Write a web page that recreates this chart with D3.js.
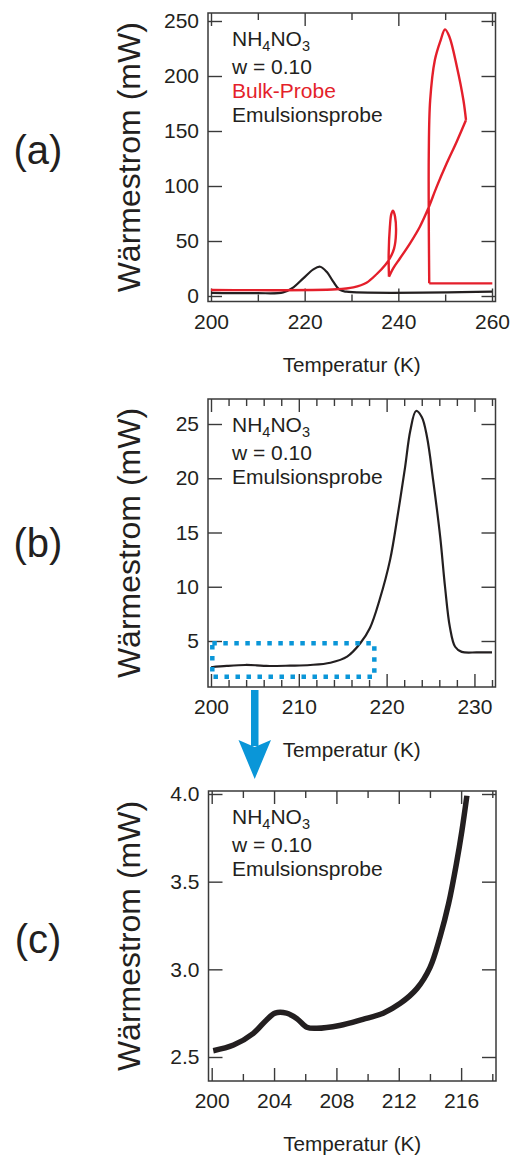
<!DOCTYPE html>
<html><head><meta charset="utf-8">
<script src="https://cdn.jsdelivr.net/npm/d3@7"></script>
<style>
body{margin:0;background:#fff}
svg{display:block}
text{font-family:"Liberation Sans",Arial,Helvetica,sans-serif;fill:#231f20}
</style>
</head><body>
<svg id="chart" width="511" height="1156"></svg>
<script>
// ---------- data ----------
// Panel (a): bulk sample (red), traced in drawing order (it loops back on itself)
const bulkTemp = [260.07,246.6,246.5,246.8,247.8,249.05,249.97,250.9,252.5,253.9,254.45,252.46,250.33,248.2,246.4,244.6,242.5,240.36,238.9,238.0,237.94,238.2,238.5,238.86,239.3,239.5,239.1,238.2,237.2,235.4,233.2,230.4,226.8,200];
const bulkFlow = [11.5,11.5,128,178,214.5,232.7,242.4,235.7,208.5,178,160,140.3,120.6,99.4,79.7,63,47.9,34.3,25.2,17.6,38.8,63,74.5,77.6,72,57,43.3,34.3,28.2,20,12.1,7.9,6.1,5.5];
// indices where the red trace turns sharply
const bulkCorners = [1,10,19];
// Panel (a): emulsion sample (black)
const emulATemp = [200,209.75,215.4,217.6,219.7,221.85,223.3,224.7,226.1,227.5,228.9,260];
const emulAFlow = [2.9,2.6,3.3,7.9,16,24.2,26.6,22,13,5.5,3.9,3.9];
// Panel (b): emulsion sample
const emulBTemp = [200,201.8,203.9,205.2,206.3,209,211.3,213.6,215.5,217,218.1,219.2,220.4,221.3,222.1,222.7,223.35,224.0,224.6,225.3,226.1,226.65,227.2,227.8,228.55,230.3,232];
const emulBFlow = [2.58,2.70,2.79,2.76,2.70,2.73,2.79,3.0,3.56,4.79,6.2,8.8,12.5,16.8,21.0,24.4,26.2,25.65,23.8,19.8,14.6,10.0,6.3,4.47,4.0,3.95,3.95];
// Panel (c): emulsion sample, zoomed
const emulCTemp = [200.1,201.4,202.67,203.5,204.06,204.8,205.45,206.1,206.74,208.2,209.7,211.0,212.1,213.16,214.0,214.65,215.2,215.7,216.05,216.37];
const emulCFlow = [2.536,2.568,2.635,2.71,2.75,2.75,2.72,2.67,2.664,2.68,2.715,2.75,2.806,2.89,3.01,3.186,3.376,3.604,3.79,3.99];

// ticks
const aXMajor = [200,220,240,260], aXMinor = [210,230,250], aYTicks = [0,50,100,150,200,250];
const bXMajor = [200,210,220,230], bXMinor = [202,204,206,208,212,214,216,218,222,224,226,228,232], bYTicks = [5,10,15,20,25];
const cXMajor = [200,204,208,212,216], cXMinor = [202,206,210,214,218], cYTicks = [2.5,3.0,3.5,4.0];

// zoom box in panel (b), data units
const boxTemp = [200.15,218.6], boxFlow = [1.7,4.8];

// texts
const yTitle = "Wärmestrom (mW)", xTitle = "Temperatur (K)";
const legendW = "w = 0.10", legendBulk = "Bulk-Probe", legendEmul = "Emulsionsprobe";

// ---------- drawing ----------
const svg = d3.select("#chart");
const RED = "#e41f2b", INK = "#231f20", FRAME = "#3a3a3a", BLUE = "#0a96d8";
const FS = 21;

function panel(o){
  const g = svg.append("g");
  const x = d3.scaleLinear().domain(o.xd).range(o.xr);
  const y = d3.scaleLinear().domain(o.yd).range(o.yr);
  const f = o.frame;
  const style = sel => {
    sel.select(".domain").remove();
    sel.selectAll(".tick line").attr("stroke", FRAME).attr("stroke-width", 1.4);
    sel.selectAll(".tick text").style("font-size", FS+"px").attr("fill", INK);
  };
  g.append("g").attr("transform",`translate(0,${f.b})`)
    .call(d3.axisBottom(x).tickValues(o.xMaj).tickSizeInner(-13).tickSizeOuter(0).tickPadding(12.5).tickFormat(d3.format("d")))
    .call(style);
  g.append("g").attr("transform",`translate(0,${f.b})`)
    .call(d3.axisBottom(x).tickValues(o.xMin).tickSizeInner(-7).tickSizeOuter(0).tickFormat(""))
    .call(style);
  g.append("g").attr("transform",`translate(0,${f.t})`)
    .call(d3.axisTop(x).tickValues(o.xMaj).tickSizeInner(-13).tickSizeOuter(0).tickFormat(""))
    .call(style);
  g.append("g").attr("transform",`translate(0,${f.t})`)
    .call(d3.axisTop(x).tickValues(o.xMin).tickSizeInner(-7).tickSizeOuter(0).tickFormat(""))
    .call(style);
  g.append("g").attr("transform",`translate(${f.l},0)`)
    .call(d3.axisLeft(y).tickValues(o.yT).tickSizeInner(-14).tickSizeOuter(0).tickPadding(9).tickFormat(o.yFmt))
    .call(style);
  g.append("g").attr("transform",`translate(${f.r},0)`)
    .call(d3.axisRight(y).tickValues(o.yT).tickSizeInner(-14).tickSizeOuter(0).tickFormat(""))
    .call(style);
  g.append("rect").attr("x",f.l).attr("y",f.t).attr("width",f.r-f.l).attr("height",f.b-f.t)
    .attr("fill","none").attr("stroke",FRAME).attr("stroke-width",1.5);
  g.append("text").attr("transform",`translate(140,${(f.t+f.b)/2}) rotate(-90)`)
    .attr("text-anchor","middle").style("font-size","32px").text(yTitle);
  g.append("text").attr("x",(f.l+f.r)/2).attr("y",f.b+70).attr("text-anchor","middle")
    .style("font-size","20.7px").text(xTitle);
  g.append("text").attr("x",38).attr("y",o.letterY).attr("text-anchor","middle")
    .style("font-size","40px").text(o.letter);
  const lx = 232;
  const t1 = g.append("text").attr("x",lx).attr("y",f.t+33).style("font-size",FS+"px");
  t1.append("tspan").text("NH");
  t1.append("tspan").attr("dy",5).style("font-size","14.5px").text("4");
  t1.append("tspan").attr("dy",-5).text("NO");
  t1.append("tspan").attr("dy",5).style("font-size","14.5px").text("3");
  g.append("text").attr("x",lx).attr("y",f.t+61).style("font-size",FS+"px").text(legendW);
  let ly = f.t+85;
  if(o.showBulk){
    g.append("text").attr("x",lx).attr("y",ly).style("font-size",FS+"px").style("fill",RED).text(legendBulk);
    ly += 24;
  }
  g.append("text").attr("x",lx).attr("y",ly).style("font-size",FS+"px").text(legendEmul);
  return {g,x,y};
}

// Panel (a)
const A = panel({xd:[200,260], xr:[211,492], yd:[0,250], yr:[296,21],
  frame:{l:208,r:495.5,t:13,b:301.5}, xMaj:aXMajor, xMin:aXMinor, yT:aYTicks,
  yFmt:d3.format("d"), letter:"(a)", letterY:164, showBulk:true});
A.g.append("path").datum(d3.zip(emulATemp,emulAFlow))
  .attr("d",d3.line().x(d=>A.x(d[0])).y(d=>A.y(d[1])).curve(d3.curveCatmullRom.alpha(0.5)))
  .attr("fill","none").attr("stroke",INK).attr("stroke-width",2.2);
const bulkPts = d3.zip(bulkTemp,bulkFlow);
const cuts = [0, ...bulkCorners, bulkPts.length-1];
const bulkLine = d3.line().x(d=>A.x(d[0])).y(d=>A.y(d[1])).curve(d3.curveCatmullRom.alpha(0.5));
let dAll = "";
for(let i=0;i<cuts.length-1;i++){
  dAll += bulkLine(bulkPts.slice(cuts[i], cuts[i+1]+1));
}
A.g.append("path").attr("d",dAll)
  .attr("fill","none").attr("stroke",RED).attr("stroke-width",2.4).attr("stroke-linejoin","round");

// Panel (b)
const B = panel({xd:[200,232], xr:[211,492], yd:[5,25], yr:[641,424],
  frame:{l:208,r:495.5,t:399,b:687}, xMaj:bXMajor, xMin:bXMinor, yT:bYTicks,
  yFmt:d3.format("d"), letter:"(b)", letterY:557, showBulk:false});
B.g.append("path").datum(d3.zip(emulBTemp,emulBFlow))
  .attr("d",d3.line().x(d=>B.x(d[0])).y(d=>B.y(d[1])).curve(d3.curveCatmullRom.alpha(0.5)))
  .attr("fill","none").attr("stroke",INK).attr("stroke-width",2.2);
B.g.append("rect").attr("x",B.x(boxTemp[0])).attr("y",B.y(boxFlow[1]))
  .attr("width",B.x(boxTemp[1])-B.x(boxTemp[0])).attr("height",B.y(boxFlow[0])-B.y(boxFlow[1]))
  .attr("fill","none").attr("stroke",BLUE).attr("stroke-width",4.5).attr("stroke-dasharray","4.5,6.5");

// arrow
svg.append("rect").attr("x",251).attr("y",690).attr("width",7.5).attr("height",56).attr("fill",BLUE);
svg.append("path").attr("d","M238.5,740 L254.7,779 L271,740 L254.7,747 Z").attr("fill",BLUE);

// Panel (c)
const C = panel({xd:[200,218], xr:[211.7,492.3], yd:[2.5,4.0], yr:[1057,794],
  frame:{l:208.5,r:496,t:791,b:1081}, xMaj:cXMajor, xMin:cXMinor, yT:cYTicks,
  yFmt:d3.format(".1f"), letter:"(c)", letterY:953, showBulk:false});
C.g.append("path").datum(d3.zip(emulCTemp,emulCFlow))
  .attr("d",d3.line().x(d=>C.x(d[0])).y(d=>C.y(d[1])).curve(d3.curveCatmullRom.alpha(0.5)))
  .attr("fill","none").attr("stroke",INK).attr("stroke-width",5.5).attr("stroke-linecap","butt");
</script>
</body></html>
